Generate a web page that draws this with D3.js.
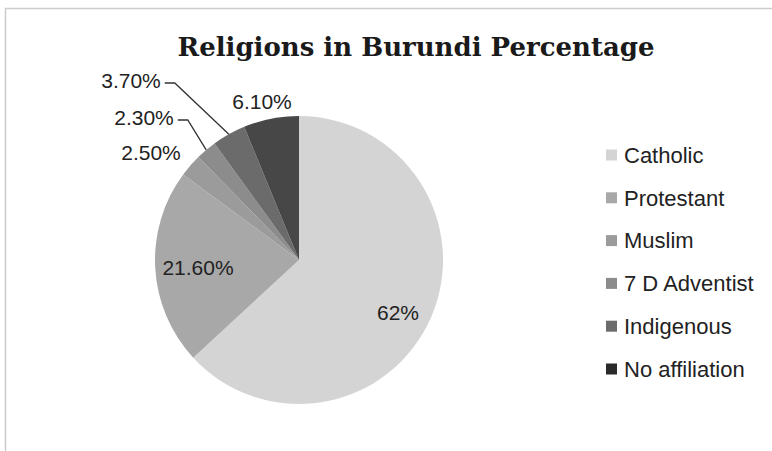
<!DOCTYPE html>
<html><head><meta charset="utf-8">
<script src="https://cdn.jsdelivr.net/npm/d3@7"></script>
<style>body{margin:0;background:#fff}svg{display:block}</style>
</head><body>
<script>
const categories = ["Catholic","Protestant","Muslim","7 D Adventist","Indigenous","No affiliation"];
const values = [62, 21.6, 2.5, 2.3, 3.7, 6.1];
const labels = ["62%","21.60%","2.50%","2.30%","3.70%","6.10%"];
const colors = ["#d4d4d4","#a8a8a8","#9b9b9b","#8c8c8c","#6b6b6b","#474747"];
const legendColors = ["#d4d4d4","#a8a8a8","#9b9b9b","#8c8c8c","#6b6b6b","#2a2a2a"];

const W = 772, H = 451;
const svg = d3.select("body").append("svg").attr("width", W).attr("height", H);

// frame
svg.append("path").attr("d", `M5.5,${H} V8.5 H${W}`).attr("fill","none").attr("stroke","#cccccc").attr("stroke-width",1.5);

// title
const title = svg.append("text").attr("x", 416).attr("y", 56).attr("text-anchor","middle")
  .attr("font-family","'DejaVu Serif', serif").attr("font-weight","bold").attr("font-size",26)
  .attr("fill","#1a1a1a").text("Religions in Burundi Percentage");
{ const w = title.node().getComputedTextLength(); title.attr("font-size", 26*477/w); }

const cx = 299, cy = 260, R = 144;
const pie = d3.pie().sort(null).value(d => d)(values);
const arc = d3.arc().innerRadius(0).outerRadius(R);
const g = svg.append("g").attr("transform", `translate(${cx},${cy})`);
g.selectAll("path").data(pie).join("path").attr("d", arc).attr("fill", (d,i) => colors[i]);

const font = "'Liberation Sans', Arial, sans-serif";
// label layout (center x, center y) relative to page
const labelPos = [[398,313],[198,268],[151,153],[144,118],[131,81],[262,102]];
const lbl = svg.append("g").attr("font-family", font).attr("fill","#222").attr("font-size",21);
const lt = lbl.selectAll("text").data(labels).join("text")
  .attr("x",(d,i)=>labelPos[i][0]).attr("y",(d,i)=>labelPos[i][1]).attr("dy","0.35em")
  .attr("text-anchor","middle").text(d=>d);

// leader lines for 7 D Adventist and Indigenous
const leaders = [{i:3, elbow:10}, {i:4, elbow:10}];
leaders.forEach(l => {
  const d = pie[l.i];
  const a = (d.startAngle + d.endAngle)/2;
  const px = cx + R*Math.sin(a), py = cy - R*Math.cos(a);
  const w = lt.nodes()[l.i].getComputedTextLength();
  const lx = labelPos[l.i][0] + w/2 + 4, ly = labelPos[l.i][1] + 2;
  svg.append("polyline").attr("points", `${lx},${ly} ${lx+l.elbow},${ly} ${px},${py}`)
    .attr("fill","none").attr("stroke","#333").attr("stroke-width",1.3);
});

// legend
const leg = svg.append("g").attr("font-family", font).attr("font-size",22).attr("fill","#222");
categories.forEach((c,i) => {
  const y = 155 + i*42.8;
  leg.append("rect").attr("x",606).attr("y",y-5.5).attr("width",11).attr("height",11).attr("fill",legendColors[i]);
  leg.append("text").attr("x",624).attr("y",y).attr("dy","0.35em").text(c);
});
</script>
</body></html>
